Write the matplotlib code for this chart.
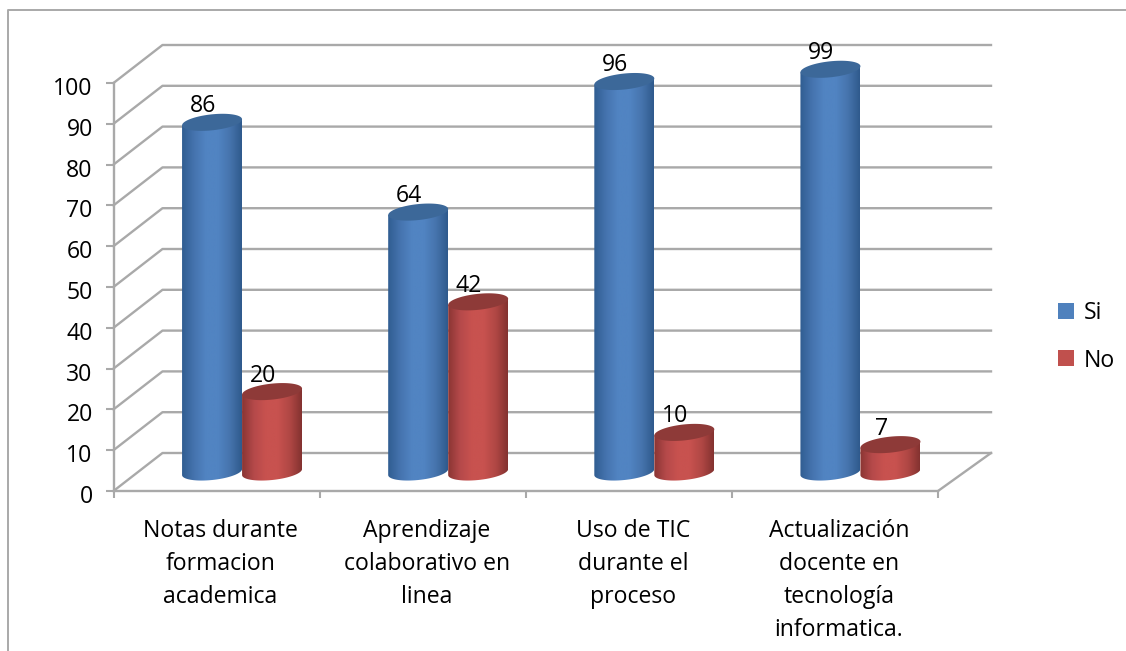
import numpy as np
import matplotlib
matplotlib.use("Agg")
import matplotlib.pyplot as plt
from matplotlib.patches import Polygon, Rectangle
from matplotlib.colors import LinearSegmentedColormap
from matplotlib.transforms import ScaledTranslation

categorias = ["Notas durante\nformacion\nacademica",
              "Aprendizaje\ncolaborativo en\nlinea",
              "Uso de TIC\ndurante el\nproceso",
              "Actualización\ndocente en\ntecnología\ninformatica."]
si = [86, 64, 96, 99]
no = [20, 42, 10, 7]
yticks = list(range(0, 101, 10))

W, H = 1126, 651
GRIS = "#a9a9a9"
TXT = 16.6

plt.rcParams['font.family'] = ['Open Sans', 'DejaVu Sans']

fig = plt.figure(figsize=(W / 100, H / 100), dpi=100)

# marco exterior, solo arriba y a la izquierda
fig.add_artist(plt.Line2D([8 / W, 8 / W, 1],
                          [0, 1 - 10 / H, 1 - 10 / H],
                          color=GRIS, lw=1.4))

# el plano frontal del grafico son los ejes normales
x0, x1, y0, y1 = 113.5, 938, 491, 83
ax = fig.add_axes([x0 / W, 1 - y0 / H, (x1 - x0) / W, (y0 - y1) / H])
ax.set_xlim(0, 4)
ax.set_ylim(0, 100)
ax.patch.set_visible(False)

px_x = 4 / (x1 - x0)
px_y = 100 / (y0 - y1)

# profundidad del grafico en unidades de datos
dx = 49 * px_x
dx_der = 53 * px_x
dy = 38 * px_y

# pared del fondo y piso
for v in yticks:
    ax.plot([0, dx, 4 + dx_der], [v, v + dy, v + dy], color=GRIS, lw=1.7, clip_on=False, zorder=1)
ax.plot([4, 4 + dx_der], [0, dy], color=GRIS, lw=1.7, clip_on=False, zorder=1)

azul = LinearSegmentedColormap.from_list("azul", ["#305d91", "#4573ae", "#5184c2", "#5184c2", "#4674ad", "#2f5a8c"])
rojo = LinearSegmentedColormap.from_list("rojo", ["#8a3533", "#b5494a", "#c8524f", "#c8524f", "#b04744", "#833230"])
grad = np.linspace(0, 1, 256).reshape(1, -1)

ancho = 60 * px_x
semi_h = 8 * px_y
incl = 3 * px_y
t = np.linspace(0, np.pi, 60)
# las tapas quedan un poco por debajo de la mitad de la profundidad
alto_tapa = dy / 2 - 1.2 * px_y


def cilindro(xc, valor, cmap, tapa):
    # cuerpo con degradado horizontal recortado, tapa eliptica inclinada arriba
    base = dy / 2
    top = valor + alto_tapa
    xs = xc + ancho / 2 * np.cos(t)
    ys_inf = base - semi_h * np.sin(t) + incl * np.cos(t)
    cuerpo = Polygon(np.r_[np.c_[xs, ys_inf], [[xc - ancho / 2, top - incl], [xc + ancho / 2, top + incl]]],
                     transform=ax.transData, fc="none", ec="none")
    ax.add_patch(cuerpo)
    img = ax.imshow(grad, cmap=cmap, extent=[xc - ancho / 2, xc + ancho / 2, base - semi_h - incl, top + incl],
                    aspect="auto", zorder=3, interpolation="bilinear")
    img.set_clip_box(fig.bbox)
    img.set_clip_path(cuerpo)
    tt = np.linspace(0, 2 * np.pi, 80)
    ax.fill(xc + ancho / 2 * np.cos(tt), top + semi_h * np.sin(tt) + incl * np.cos(tt),
            color=tapa, zorder=4, clip_on=False, lw=0)


def etiqueta(xc, valor):
    ax.text(xc - 9 * px_x, valor + alto_tapa + semi_h + 0.5, str(valor), ha="center", va="baseline",
            fontsize=TXT, color="black", zorder=5)


for i in range(4):
    centro = i + 0.5 + (dx / 2 + 1 * px_x)
    xa = centro - ancho / 2
    xr = centro + ancho / 2
    cilindro(xa, si[i], azul, "#3c6899")
    cilindro(xr, no[i], rojo, "#8e3a38")
    etiqueta(xa, si[i])
    etiqueta(xr, no[i])

ax.set_xlim(0, 4)
ax.set_ylim(0, 100)

for s in ["top", "right"]:
    ax.spines[s].set_visible(False)
for s in ["left", "bottom"]:
    ax.spines[s].set_color(GRIS)
    ax.spines[s].set_linewidth(1.7)

ax.set_yticks(yticks)
ax.set_xticks(range(5))
ax.set_xticklabels([])
ax.set_xticks(np.arange(4) + 0.5, categorias, minor=True, fontsize=TXT, linespacing=1.5, va="top")
ax.tick_params(axis="x", which="minor", length=0, pad=20)
ax.tick_params(axis="x", which="major", length=5, width=1.5, color=GRIS)
ax.tick_params(axis="y", length=6, width=1.5, color=GRIS, labelsize=TXT, pad=9)

# pequeños ajustes de posicion de los rotulos de los ejes
for lab in ax.get_xticklabels(minor=True):
    lab.set_transform(lab.get_transform() + ScaledTranslation(4 / 100, 0, fig.dpi_scale_trans))
for lab in ax.get_yticklabels():
    lab.set_transform(lab.get_transform() + ScaledTranslation(0, -3 / 100, fig.dpi_scale_trans))

# leyenda
for y_px, y_txt, color, txt in [(311, 313, "#4f81bd", "Si"), (358, 361, "#c0504d", "No")]:
    fig.add_artist(Rectangle((1058 / W, 1 - (y_px + 8) / H), 16 / W, 16 / H, color=color, lw=0))
    fig.text(1084 / W, 1 - y_txt / H, txt, fontsize=TXT, va="center", ha="left", color="black")

fig.savefig("out.png", dpi=100, facecolor="white")
